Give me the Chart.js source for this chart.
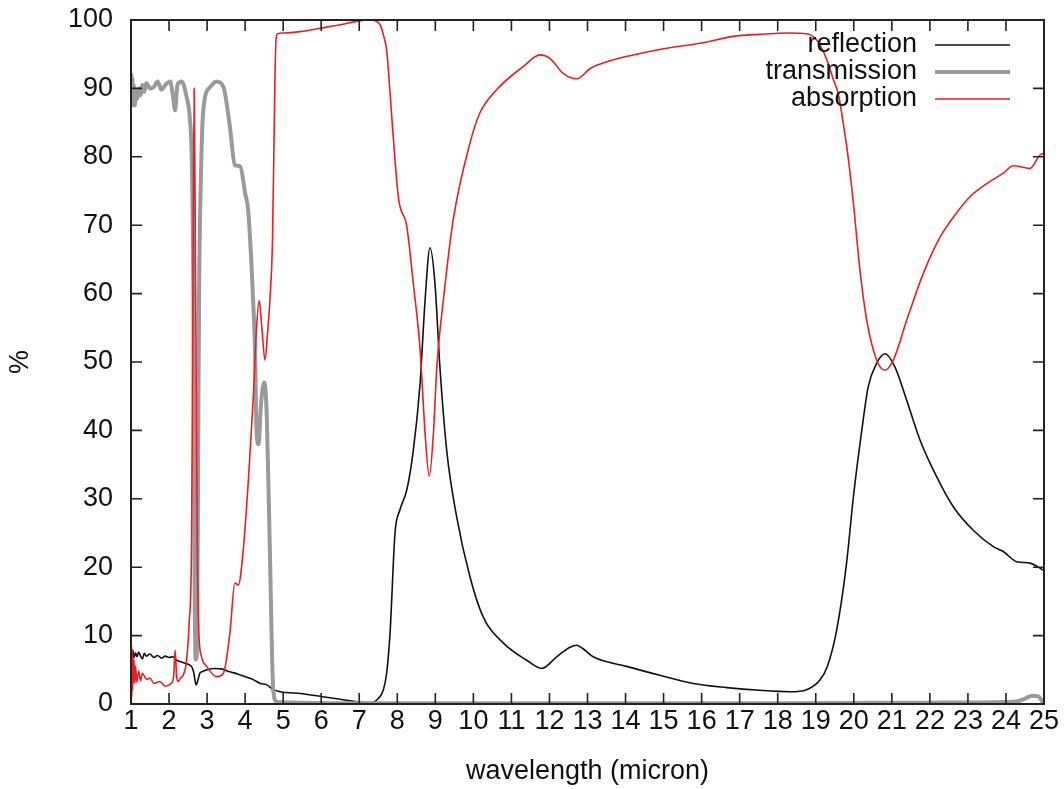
<!DOCTYPE html>
<html><head><meta charset="utf-8">
<script src="https://cdn.jsdelivr.net/npm/chart.js@4.4.0/dist/chart.umd.min.js"></script>
<style>html,body{margin:0;padding:0;background:#fff}</style>
</head><body>
<canvas id="c" width="1064" height="789"></canvas>
<script>
// ---- tick labels ----
const xTickValues = [1,2,3,4,5,6,7,8,9,10,11,12,13,14,15,16,17,18,19,20,21,22,23,24,25];
const yTickValues = [0,10,20,30,40,50,60,70,80,90,100];

// ---- series names ----
const seriesNames = ['reflection','transmission','absorption'];

// ---- reflection ----
const reflectionX = [1.00,1.01,1.03,1.05,1.08,1.12,1.16,1.20,1.25,1.30,1.35,1.40,1.50,1.60,1.70,1.80,1.90,2.00,2.10,2.20,2.30,2.40,2.50,2.60,2.65,2.71,2.76,2.81,2.90,3.00,3.20,3.40,3.60,3.80,4.00,4.20,4.40,4.57,4.74,4.92,5.50,6.00,6.50,7.00,7.30,7.50,7.63,7.72,7.81,7.94,8.07,8.25,8.42,8.60,8.73,8.86,8.99,9.12,9.30,9.56,9.91,10.26,10.79,11.40,11.80,12.19,12.54,12.72,12.90,13.15,14.03,14.90,15.78,16.66,17.53,18.32,18.76,19.11,19.30,19.55,19.81,19.99,20.21,20.38,20.60,20.82,21.08,21.39,21.74,22.18,22.62,23.14,23.67,23.93,24.28,24.63,24.94,25.00];
const reflectionY = [10,8,7.2,7.8,6.8,7.5,6.9,7.6,7.0,6.6,7.4,7.0,7.3,6.8,7.1,6.7,7.0,6.8,6.9,6.4,6.2,6.0,5.8,5.4,4.6,2.8,3.5,4.5,4.8,5.0,5.2,5.1,4.7,4.4,4.0,3.6,3.0,2.8,2.1,1.8,1.5,1.1,0.7,0.3,0.2,0.8,2,4.5,10.4,25,28.4,31.3,37,46.9,59,66.7,61.5,49.3,37,27.4,18.6,12.7,8.9,6.4,5.2,6.9,8.3,8.6,8.0,6.9,5.5,4.2,3.0,2.4,2.0,1.8,2.1,3.5,5.4,10.8,20.6,30.3,40,46.4,49.8,51.2,49.3,44.4,38.6,33.2,28.8,25.4,23,22.3,20.8,20.6,19.7,19.5];

// ---- transmission ----
const transmissionX = [1.00,1.01,1.02,1.03,1.05,1.07,1.10,1.13,1.16,1.20,1.25,1.30,1.35,1.40,1.50,1.60,1.70,1.80,1.90,2.03,2.10,2.16,2.22,2.33,2.46,2.55,2.60,2.64,2.67,2.70,2.73,2.76,2.79,2.83,2.90,3.08,3.25,3.43,3.60,3.73,3.87,4.00,4.08,4.17,4.21,4.26,4.30,4.35,4.42,4.50,4.57,4.65,4.74,4.83,5.50,6.50,8.00,10.0,14.0,18.0,22.0,24.0,24.3,24.5,24.7,24.85,25.0];
const transmissionY = [89,92,87.5,91.5,88,90.5,87.5,89.5,88.5,90,89,90.5,89.5,90.8,90,90.2,91,89.8,90.5,91,89,86.8,90.5,91,88.8,85.4,79,60,20,6.5,7,30,60,75,86.8,90.2,91,90.2,84.4,78.8,78.6,74.7,72.2,63.9,59,51.8,40,38,44,47,42,22.5,2,0.3,0.2,0.1,0.1,0.1,0.1,0.1,0.2,0.3,0.4,0.8,1.2,1.1,0];

// ---- absorption ----
const absorptionX = [1.00,1.01,1.02,1.03,1.04,1.05,1.06,1.08,1.10,1.12,1.15,1.20,1.25,1.30,1.41,1.50,1.60,1.76,1.90,2.05,2.12,2.16,2.20,2.24,2.30,2.37,2.46,2.53,2.59,2.62,2.66,2.70,2.74,2.78,2.85,2.99,3.25,3.43,3.60,3.73,3.82,3.95,4.10,4.21,4.30,4.37,4.44,4.52,4.60,4.65,4.72,4.78,4.81,4.85,5.00,5.44,5.97,6.50,6.93,7.28,7.45,7.55,7.65,7.72,7.81,7.88,8.03,8.25,8.42,8.60,8.73,8.84,8.95,9.04,9.21,9.47,9.91,10.17,10.61,11.31,11.75,12.01,12.36,12.72,13.07,13.51,14.38,15.00,15.96,16.83,17.50,18.32,18.76,19.02,19.29,19.45,19.60,19.72,19.85,19.99,20.16,20.34,20.60,20.82,21.04,21.39,21.83,22.27,22.62,23.06,23.58,23.93,24.19,24.63,24.90,25.00];
const absorptionY = [0,9,1,8,2,7,3,6.5,3,5.5,3.2,4.8,3.4,4.5,3.6,3.8,3.0,3.3,2.6,3.0,4,7.9,4,3.3,3.8,4.2,6.4,12,22.5,50,90,60,25,11,7,5.5,4,4.5,10.4,17.7,17.4,22.5,34,44.4,55,59,55,50.3,55,59,68,90,97,98,98.1,98.3,98.8,99.3,99.8,100,99.8,99.3,97.5,95.6,89.3,83.9,74,69.8,61.5,51.8,39.6,33.3,39.6,49.3,59,70.8,82,86.4,89.8,93.2,94.9,94.4,92.2,91.4,92.9,93.9,95.1,95.8,96.6,97.6,97.9,98.1,98,97.1,94.2,91.5,89,85,80,73.2,63.5,56.1,50.3,48.8,50.3,56.1,63,68.3,71.2,74.2,76.4,77.6,78.7,78.3,80.3,80.5];

const pts = (xs, ys) => xs.map((x, i) => ({x: x, y: ys[i]}));

const FONT = '"Liberation Sans", Arial, Helvetica, sans-serif';
const FSIZE = 27;
const AXIS_COLOR = '#222';

const framePlugin = {
  id: 'frame',
  afterDatasetsDraw(chart) {
    const {ctx, chartArea: {left, right, top, bottom}, scales: {x, y}} = chart;
    const tl = 11;
    ctx.save();
    ctx.strokeStyle = AXIS_COLOR;
    ctx.lineWidth = 1.6;
    ctx.beginPath();
    x.ticks.forEach(t => {
      const px = x.getPixelForValue(t.value);
      ctx.moveTo(px, bottom); ctx.lineTo(px, bottom - tl);
      ctx.moveTo(px, top); ctx.lineTo(px, top + tl);
    });
    y.ticks.forEach(t => {
      const py = y.getPixelForValue(t.value);
      ctx.moveTo(left, py); ctx.lineTo(left + tl, py);
      ctx.moveTo(right, py); ctx.lineTo(right - tl, py);
    });
    ctx.stroke();
    ctx.lineWidth = 2;
    ctx.strokeRect(left, top, right - left, bottom - top);
    // legend (inside, top right)
    ctx.font = FSIZE + 'px ' + FONT;
    ctx.textAlign = 'right';
    ctx.textBaseline = 'middle';
    chart.data.datasets.forEach((ds, i) => {
      const yy = top + 25 + i * 27;
      ctx.fillStyle = '#111';
      ctx.fillText(ds.label, right - 127, yy);
      ctx.strokeStyle = ds.borderColor;
      ctx.lineWidth = ds.borderWidth;
      ctx.beginPath();
      ctx.moveTo(right - 109, yy);
      ctx.lineTo(right - 34, yy);
      ctx.stroke();
    });
    ctx.restore();
  }
};

new Chart(document.getElementById('c'), {
  type: 'line',
  data: {
    datasets: [
      {label: seriesNames[0], data: pts(reflectionX, reflectionY), borderColor: '#111111', borderWidth: 1.6, order: 3},
      {label: seriesNames[1], data: pts(transmissionX, transmissionY), borderColor: '#9a9a9c', borderWidth: 4, order: 2},
      {label: seriesNames[2], data: pts(absorptionX, absorptionY), borderColor: '#ee1c24', borderWidth: 1.6, order: 1}
    ]
  },
  options: {
    responsive: false,
    animation: false,
    devicePixelRatio: 1,
    elements: {point: {radius: 0}, line: {cubicInterpolationMode: 'monotone', fill: false}},
    layout: {padding: {left: 0, right: 20, top: 20, bottom: 0}},
    plugins: {legend: {display: false}, tooltip: {enabled: false}},
    scales: {
      x: {
        type: 'linear', min: 1, max: 25,
        afterBuildTicks: s => { s.ticks = xTickValues.map(v => ({value: v})); },
        afterFit: s => { s.height = 85; },
        grid: {drawOnChartArea: false, drawTicks: false},
        border: {display: false},
        ticks: {color: '#111', font: {family: FONT, size: FSIZE}, padding: 1, maxRotation: 0, autoSkip: false},
        title: {display: true, text: 'wavelength (micron)', color: '#111', font: {family: FONT, size: FSIZE, lineHeight: 1.2}, padding: {top: 0, bottom: 1}}
      },
      y: {
        type: 'linear', min: 0, max: 100,
        afterBuildTicks: s => { s.ticks = yTickValues.map(v => ({value: v})); },
        afterFit: s => { s.width = 131; },
        grid: {drawOnChartArea: false, drawTicks: true, tickLength: 16, tickColor: 'rgba(0,0,0,0)'},
        border: {display: false},
        ticks: {color: '#111', font: {family: FONT, size: FSIZE}, padding: 2, autoSkip: false},
        title: {display: true, text: '%', color: '#111', font: {family: FONT, size: FSIZE, lineHeight: 1.2}, padding: {top: 4, bottom: 0}}
      }
    }
  },
  plugins: [framePlugin]
});
</script>
</body></html>
